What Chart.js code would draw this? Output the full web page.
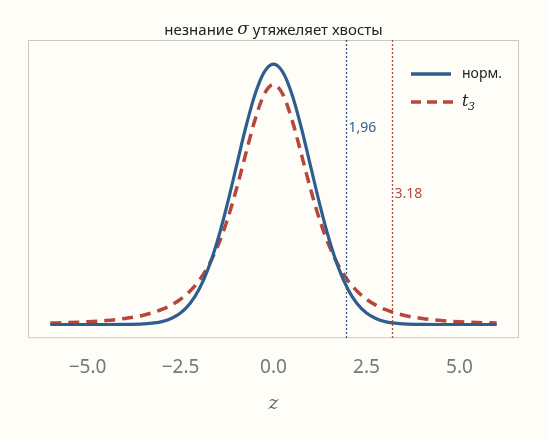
<!DOCTYPE html>
<html><head><meta charset="utf-8">
<script src="https://cdn.jsdelivr.net/npm/chart.js@4"></script>
<style>html,body{margin:0;background:#fffdf8;}#wrap{width:547px;height:439px;}</style>
</head><body><div id="wrap"><canvas id="c"></canvas></div>
<script>
var xs = [-6,-5.5,-5,-4.5,-4,-3.5,-3,-2.75,-2.5,-2.25,-2,-1.75,-1.5,-1.25,-1,-0.75,-0.5,-0.25,
          0,0.25,0.5,0.75,1,1.25,1.5,1.75,2,2.25,2.5,2.75,3,3.5,4,4.5,5,5.5,6];
var normVals = [0,0,0,0,0.0001,0.0009,0.0044,0.0091,0.0175,0.0317,0.0540,0.0863,0.1295,0.1826,0.2420,0.3011,0.3521,0.3867,
                0.3989,0.3867,0.3521,0.3011,0.2420,0.1826,0.1295,0.0863,0.0540,0.0317,0.0175,0.0091,0.0044,0.0009,0.0001,0,0,0,0];
var t3Vals = [0.0022,0.0030,0.0042,0.0061,0.0092,0.0142,0.0230,0.0297,0.0387,0.0509,0.0675,0.0900,0.1200,0.1589,0.2068,0.2607,0.3132,0.3528,
              0.3676,0.3528,0.3132,0.2607,0.2068,0.1589,0.1200,0.0900,0.0675,0.0509,0.0387,0.0297,0.0230,0.0142,0.0092,0.0061,0.0042,0.0030,0.0022];
var critNorm = 1.96, critT = 3.18;
var critLabels = ['1,96', '3.18'];

var blue = '#2e5e8e', red = '#b5483c';

function pts(vals) { return xs.map(function(x, i) { return {x: x, y: vals[i]}; }); }

var extras = {
  id: 'extras',
  beforeDraw: function(chart) {
    var c = chart.ctx;
    c.save();
    c.fillStyle = '#fffdf8';
    c.fillRect(0, 0, chart.width, chart.height);
    c.restore();
  },
  afterDatasetsDraw: function(chart) {
    var c = chart.ctx, a = chart.chartArea, sx = chart.scales.x;
    c.save();
    // frame
    c.strokeStyle = '#c8c8c0'; c.lineWidth = 1;
    c.strokeRect(a.left + 0.5, a.top + 0.5, a.right - a.left - 1, a.bottom - a.top - 1);
    // critical lines
    [[critNorm, blue, critLabels[0], 128], [critT, red, critLabels[1], 194]].forEach(function(d) {
      var px = Math.round(sx.getPixelForValue(d[0])) + 0.5;
      c.strokeStyle = d[1]; c.lineWidth = 1.3; c.setLineDash([2, 2]);
      c.beginPath(); c.moveTo(px, a.top); c.lineTo(px, a.bottom); c.stroke();
      c.setLineDash([]);
      c.fillStyle = d[1]; c.font = '14px "Noto Sans"'; c.textBaseline = 'middle';
      c.fillText(d[2], px + 2, d[3]);
    });
    // legend
    c.lineWidth = 3.5;
    c.strokeStyle = blue;
    c.beginPath(); c.moveTo(411, 74); c.lineTo(451, 74); c.stroke();
    c.strokeStyle = red; c.setLineDash([10, 6]);
    c.beginPath(); c.moveTo(411, 102); c.lineTo(453, 102); c.stroke();
    c.setLineDash([]);
    c.fillStyle = '#222'; c.font = '14px "Noto Sans"'; c.textBaseline = 'middle';
    c.fillText('норм.', 462, 74);
    c.font = 'italic 16px "DejaVu Serif"';
    c.fillText('t', 462, 102);
    c.font = 'italic 11px "DejaVu Serif"';
    c.fillText('3', 468, 107);
    // title
    c.textBaseline = 'middle';
    var t1 = 'незнание ', s = 'σ', t2 = ' утяжеляет хвосты';
    c.font = '15px "Noto Sans"'; var w1 = c.measureText(t1).width, w3 = c.measureText(t2).width;
    c.font = 'italic 17px "DejaVu Serif"'; var w2 = c.measureText(s).width;
    var x0 = (a.left + a.right) / 2 - (w1 + w2 + w3) / 2;
    c.font = '15px "Noto Sans"'; c.fillText(t1, x0, 31);
    c.font = 'italic 17px "DejaVu Serif"'; c.fillText(s, x0 + w1, 30);
    c.font = '15px "Noto Sans"'; c.fillText(t2, x0 + w1 + w2, 31);
    // x label
    c.font = 'italic 19px "DejaVu Serif"'; c.fillStyle = '#666'; c.textAlign = 'center';
    c.fillText('z', (a.left + a.right) / 2, 404);
    c.restore();
  }
};

new Chart(document.getElementById('c'), {
  type: 'line',
  data: {
    datasets: [
      { data: pts(normVals), borderColor: blue, borderWidth: 3.2, pointRadius: 0, cubicInterpolationMode: 'monotone', fill: false },
      { data: pts(t3Vals), borderColor: red, borderWidth: 3.5, borderDash: [11, 7], pointRadius: 0, cubicInterpolationMode: 'monotone', fill: false }
    ]
  },
  options: {
    responsive: true, maintainAspectRatio: false, animation: false,
    layout: { padding: { left: 28, right: 28, top: 40, bottom: 47 } },
    plugins: { legend: { display: false }, tooltip: { enabled: false } },
    scales: {
      x: {
        type: 'linear', min: -6.6, max: 6.6,
        afterBuildTicks: function(s) { s.ticks = [-5, -2.5, 0, 2.5, 5].map(function(v) { return {value: v}; }); },
        grid: { display: false, drawTicks: true, tickLength: 5, tickColor: '#c8c8c0' },
        border: { display: false },
        ticks: {
          color: '#777', font: { family: 'Noto Sans', size: 19 }, padding: 13, maxRotation: 0,
          callback: function(v) { return v.toFixed(1).replace('-', '\u2212'); }
        }
      },
      y: { display: false, min: -0.021, max: 0.436 }
    }
  },
  plugins: [extras]
});
</script>
</body></html>
